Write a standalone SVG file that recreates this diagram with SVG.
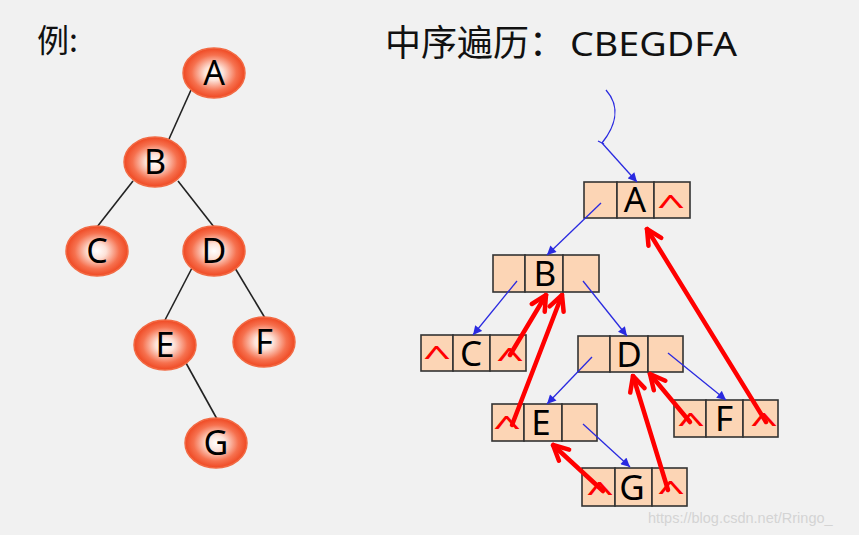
<svg xmlns="http://www.w3.org/2000/svg" width="859" height="535" viewBox="0 0 859 535">
<style>
.bg{fill:#f1f1f1}
.ell{fill:url(#rg);stroke:#f26a44;stroke-width:1.5}
.tl{stroke:#222;stroke-width:1.6;fill:none}
.lt{font-family:"Noto Sans","Open Sans",sans-serif;font-size:34px;fill:#000;text-anchor:middle}
.cell{fill:#fcd5b5;stroke:#333;stroke-width:1.6}
.nl{font-family:"Noto Sans","Open Sans",sans-serif;font-size:35px;fill:#000;text-anchor:middle}
.car{font-family:"Noto Sans","Open Sans",sans-serif;font-size:34px;fill:#f00;text-anchor:middle}
.bl{stroke:#2a2ae0;stroke-width:1.3;fill:none}
.rd{stroke:#f00;stroke-width:4.5;fill:none;stroke-linecap:round}
</style>
<defs>
<radialGradient id="rg" cx="50%" cy="50%" r="50%">
<stop offset="0" stop-color="#ffffff"/>
<stop offset="0.3" stop-color="#fde2d8"/>
<stop offset="0.72" stop-color="#f6714f"/>
<stop offset="1" stop-color="#ef4822"/>
</radialGradient>
<marker id="ab" viewBox="0 0 10 10" refX="10" refY="5" markerWidth="10" markerHeight="9" markerUnits="userSpaceOnUse" orient="auto">
<path d="M0,0 L10,5 L0,10 z" fill="#2a2ae0"/>
</marker>
<marker id="ar" viewBox="-18 -10 20 20" refX="0" refY="0" markerWidth="20" markerHeight="20" markerUnits="userSpaceOnUse" orient="auto">
<path d="M-15,-7.5 L0,0 L-15,7.5" fill="none" stroke="#f00" stroke-width="4.5" stroke-linecap="round" stroke-linejoin="miter"/>
</marker>
</defs>
<rect class="bg" x="0" y="0" width="859" height="535"/>
<text x="37" y="52" font-family="'Noto Sans CJK SC',sans-serif" font-size="32" fill="#111">例:</text>
<text x="385" y="56" font-family="'Noto Sans CJK SC',sans-serif" font-size="36" fill="#111">中序遍历：</text>
<text x="570" y="56" font-family="'Noto Sans','Open Sans',sans-serif" font-size="33" fill="#111" textLength="167" lengthAdjust="spacingAndGlyphs">CBEGDFA</text>

<g id="tree-edges">
<line class="tl" x1="191" y1="90" x2="169" y2="139"/>
<line class="tl" x1="133" y1="181" x2="97" y2="227"/>
<line class="tl" x1="178" y1="181" x2="214" y2="227"/>
<line class="tl" x1="192" y1="268" x2="165" y2="320"/>
<line class="tl" x1="235" y1="268" x2="265" y2="318"/>
<line class="tl" x1="186" y1="363" x2="217" y2="419"/>
</g>
<g id="tA"><ellipse class="ell" cx="214" cy="73" rx="31" ry="25"/><text class="lt" x="214" y="85">A</text></g>
<g id="tB"><ellipse class="ell" cx="155" cy="162" rx="31" ry="25"/><text class="lt" x="155" y="174">B</text></g>
<g id="tC"><ellipse class="ell" cx="97" cy="251" rx="31" ry="25"/><text class="lt" x="97" y="263">C</text></g>
<g id="tD"><ellipse class="ell" cx="214" cy="251" rx="31" ry="25"/><text class="lt" x="214" y="263">D</text></g>
<g id="tE"><ellipse class="ell" cx="165" cy="345" rx="31" ry="25"/><text class="lt" x="165" y="357">E</text></g>
<g id="tF"><ellipse class="ell" cx="264" cy="342" rx="31" ry="25"/><text class="lt" x="264" y="354">F</text></g>
<g id="tG"><ellipse class="ell" cx="216" cy="443" rx="31" ry="25"/><text class="lt" x="216" y="455">G</text></g>

<g id="nA">
<rect class="cell" x="584" y="182" width="33" height="36"/><rect class="cell" x="617" y="182" width="37" height="36"/><rect class="cell" x="654" y="182" width="36" height="36"/>
<text class="nl" x="635" y="212">A</text><text class="car" transform="translate(671,216) scale(1.47,0.85)">^</text>
</g>
<g id="nB">
<rect class="cell" x="493" y="255" width="32" height="37"/><rect class="cell" x="525" y="255" width="38" height="37"/><rect class="cell" x="563" y="255" width="36" height="37"/>
<text class="nl" x="545" y="286">B</text>
</g>
<g id="nC">
<rect class="cell" x="421" y="335" width="32" height="36"/><rect class="cell" x="453" y="335" width="37" height="36"/><rect class="cell" x="490" y="335" width="36" height="36"/>
<text class="nl" x="471" y="366">C</text><text class="car" transform="translate(437,367) scale(1.47,0.85)">^</text><text class="car" transform="translate(510,369) scale(1.47,0.85)">^</text>
</g>
<g id="nD">
<rect class="cell" x="578" y="336" width="32" height="36"/><rect class="cell" x="610" y="336" width="38" height="36"/><rect class="cell" x="648" y="336" width="35" height="36"/>
<text class="nl" x="629" y="367">D</text>
</g>
<g id="nE">
<rect class="cell" x="492" y="404" width="32" height="37"/><rect class="cell" x="524" y="404" width="38" height="37"/><rect class="cell" x="562" y="404" width="35" height="37"/>
<text class="nl" x="541" y="435">E</text><text class="car" transform="translate(507,437) scale(1.47,0.85)">^</text>
</g>
<g id="nF">
<rect class="cell" x="674" y="400" width="32" height="37"/><rect class="cell" x="706" y="400" width="37" height="37"/><rect class="cell" x="743" y="400" width="35" height="37"/>
<text class="nl" x="724" y="431">F</text><text class="car" transform="translate(691,434) scale(1.47,0.85)">^</text><text class="car" transform="translate(764,434) scale(1.47,0.85)">^</text>
</g>
<g id="nG">
<rect class="cell" x="582" y="468" width="33" height="38"/><rect class="cell" x="615" y="468" width="37" height="38"/><rect class="cell" x="652" y="468" width="35" height="38"/>
<text class="nl" x="632" y="500">G</text><text class="car" transform="translate(600,503) scale(1.47,0.85)">^</text><text class="car" transform="translate(671,502) scale(1.47,0.85)">^</text>
</g>

<g id="connectors">
<path class="bl" d="M606,90 C622,108 614,128 602,143"/>
<line class="bl" x1="598" y1="141" x2="604" y2="144"/>
<line class="bl" x1="602" y1="143" x2="637" y2="182" marker-end="url(#ab)"/>
<line class="bl" x1="601" y1="203" x2="547" y2="255" marker-end="url(#ab)"/>
<line class="bl" x1="517" y1="281" x2="473" y2="335" marker-end="url(#ab)"/>
<line class="bl" x1="583" y1="281" x2="627" y2="336" marker-end="url(#ab)"/>
<line class="bl" x1="592" y1="357" x2="547" y2="404" marker-end="url(#ab)"/>
<line class="bl" x1="668" y1="353" x2="726" y2="400" marker-end="url(#ab)"/>
<line class="bl" x1="583" y1="424" x2="630" y2="467" marker-end="url(#ab)"/>

<line class="rd" x1="510" y1="355" x2="546" y2="295" marker-end="url(#ar)"/>
<line class="rd" x1="512" y1="425" x2="562" y2="295" marker-end="url(#ar)"/>
<line class="rd" x1="603" y1="491" x2="553" y2="445" marker-end="url(#ar)"/>
<line class="rd" x1="668" y1="490" x2="633" y2="376" marker-end="url(#ar)"/>
<line class="rd" x1="690" y1="422" x2="650" y2="374" marker-end="url(#ar)"/>
<line class="rd" x1="766" y1="422" x2="647" y2="229" marker-end="url(#ar)"/>
</g>
<text x="648" y="523" font-family="'Liberation Sans',Arial,sans-serif" font-size="14.5" fill="#d4d4d4">https://blog.csdn.net/Rringo_</text>
</svg>
